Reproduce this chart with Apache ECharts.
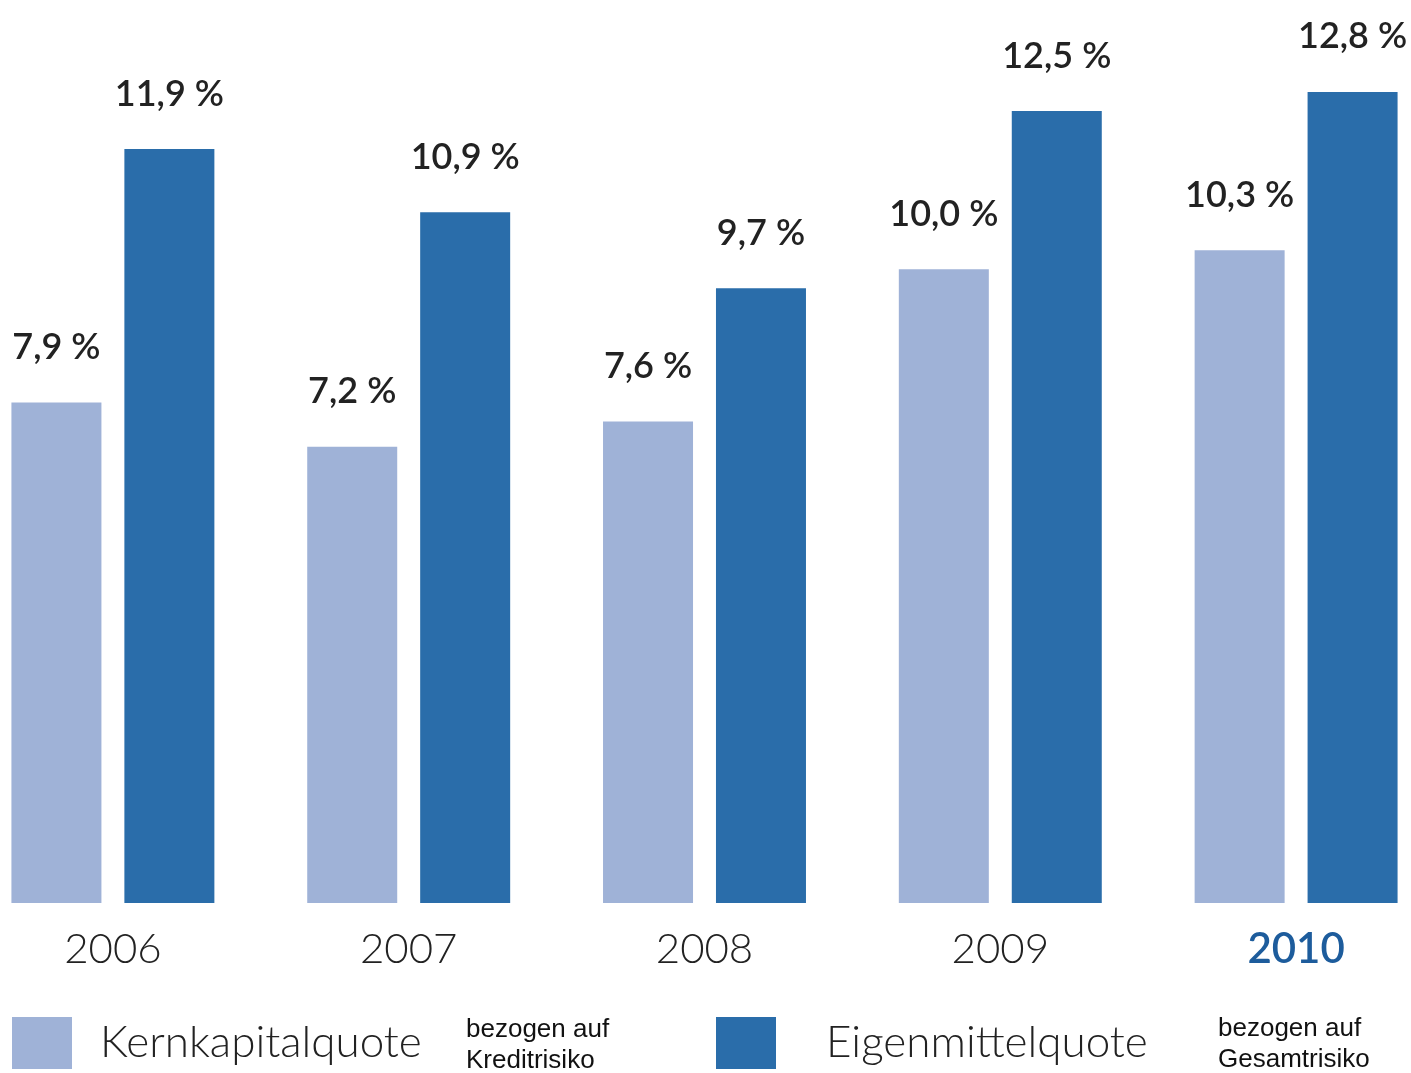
<!DOCTYPE html>
<html>
<head>
<meta charset="utf-8">
<script src="https://cdn.jsdelivr.net/npm/echarts@6/dist/echarts.min.js"></script>
<style>
html,body{margin:0;padding:0;background:#fff;}
#chart{width:1411px;height:1073px;}
</style>
</head>
<body>
<div id="chart"></div>
<script>
const categories = ['2006', '2007', '2008', '2009', '2010'];
const kernkapitalquote = [7.9, 7.2, 7.6, 10.0, 10.3];
const eigenmittelquote = [11.9, 10.9, 9.7, 12.5, 12.8];
const seriesNames = ['Kernkapitalquote', 'Eigenmittelquote'];
const legendNotes = ['bezogen auf\nKreditrisiko', 'bezogen auf\nGesamtrisiko'];
const highlightCategory = '2010';

const LIGHT = '#9fb2d7';
const DARK = '#2a6daa';

const chart = echarts.init(document.getElementById('chart'), null, {renderer: 'canvas'});

const labelCfg = {
  show: true,
  position: 'top',
  distance: 37,
  fontFamily: 'Lato',
  fontWeight: 600,
  fontSize: 36,
  color: '#222',
  formatter: p => p.value.toFixed(1).replace('.', ',') + ' %'
};

const option = {
  backgroundColor: '#fff',
  animation: false,
  grid: {left: -35, right: -33, top: 0, bottom: 170, containLabel: false, outerBoundsMode: 'none'},
  xAxis: {
    type: 'category',
    data: categories,
    axisLine: {show: false},
    axisTick: {show: false},
    axisLabel: {
      margin: 25,
      formatter: v => v === highlightCategory ? '{h|' + v + '}' : '{n|' + v + '}',
      rich: {
        n: {fontFamily: 'Lato', fontSize: 42, color: '#222', fontWeight: 300},
        h: {fontFamily: 'Lato', fontSize: 42, color: '#1d5c9c', fontWeight: 600}
      }
    }
  },
  yAxis: {
    type: 'value',
    min: 0,
    max: 14.25,
    show: false,
    splitLine: {show: false}
  },
  legend: [
    {
      data: [seriesNames[0]],
      left: 12,
      top: 1017,
      padding: 0,
      itemWidth: 60,
      itemHeight: 52,
      icon: 'rect',
      textStyle: {fontFamily: 'Lato', fontSize: 44, color: '#222', fontWeight: 300, padding: [0, 0, 0, 23]}
    },
    {
      data: [seriesNames[1]],
      left: 716,
      top: 1017,
      padding: 0,
      itemWidth: 60,
      itemHeight: 52,
      icon: 'rect',
      textStyle: {fontFamily: 'Lato', fontSize: 44, color: '#222', fontWeight: 300, padding: [0, 0, 0, 45]}
    }
  ],
  graphic: [
    {
      type: 'text', left: 466, top: 1014,
      style: {text: legendNotes[0], fontFamily: 'Liberation Sans', fontSize: 26, lineHeight: 31, fill: '#111'}
    },
    {
      type: 'text', left: 1218, top: 1013,
      style: {text: legendNotes[1], fontFamily: 'Liberation Sans', fontSize: 26, lineHeight: 31, fill: '#111'}
    }
  ],
  series: [
    {
      name: seriesNames[0],
      type: 'bar',
      data: kernkapitalquote,
      barWidth: 90,
      barGap: '25.5%',
      itemStyle: {color: LIGHT},
      label: labelCfg
    },
    {
      name: seriesNames[1],
      type: 'bar',
      data: eigenmittelquote,
      barWidth: 90,
      barGap: '25.5%',
      itemStyle: {color: DARK},
      label: labelCfg
    }
  ]
};

chart.setOption(option);
</script>
</body>
</html>
